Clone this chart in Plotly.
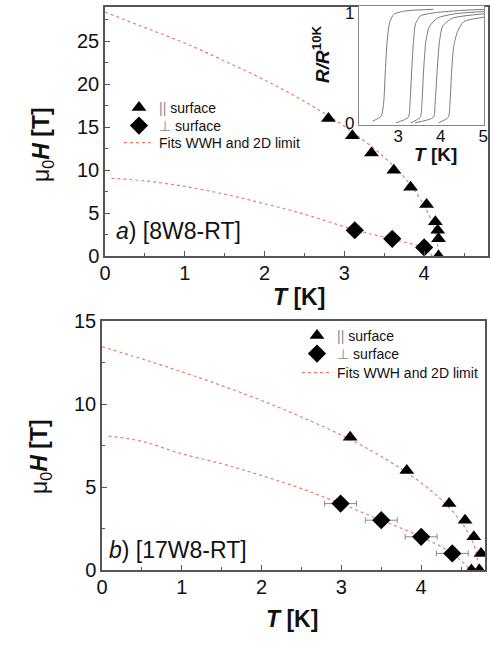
import plotly.graph_objects as go

# ---------------- data ----------------
# panel a) [8W8-RT]
par_T_a = [2.80, 3.10, 3.34, 3.62, 3.83, 4.03, 4.14, 4.17, 4.18, 4.18]
par_H_a = [16, 14, 12, 10, 8, 6, 4, 3, 2, 0]
perp_T_a = [3.13, 3.60, 4.00]
perp_H_a = [3, 2, 1]
perp_err_a = [0.08, 0.08, 0.06]
fitpar_T_a = [0, 0.5, 1.0, 1.5, 2.0, 2.5, 3.0, 3.5, 3.8, 4.0, 4.1, 4.15, 4.18]
fitpar_H_a = [28.4, 26.6, 24.8, 22.7, 20.5, 18.0, 15.1, 11.5, 8.6, 5.9, 3.9, 2.4, 0]
fitperp_T_a = [0.08, 0.5, 1.0, 1.5, 1.82, 2.45, 3.13, 3.6, 4.0, 4.1]
fitperp_H_a = [9.05, 8.75, 8.1, 7.2, 6.5, 5.0, 3.05, 1.95, 0.9, 0]

# panel b) [17W8-RT]
par_T_b = [3.11, 3.82, 4.35, 4.55, 4.66, 4.75, 4.63, 4.73]
par_H_b = [8, 6, 4, 3, 2, 1, 0, 0]
perp_T_b = [2.99, 3.50, 4.00, 4.39]
perp_H_b = [4, 3, 2, 1]
perp_err_b = [0.2, 0.2, 0.2, 0.2]
fitpar_T_b = [0, 0.5, 1.0, 1.5, 2.0, 2.5, 3.0, 3.5, 4.0, 4.3, 4.5, 4.6, 4.68, 4.72]
fitpar_H_b = [13.45, 12.72, 11.94, 11.11, 10.21, 9.22, 8.12, 6.84, 5.25, 4.01, 2.90, 2.14, 1.24, 0]
fitperp_T_b = [0.08, 0.5, 1.0, 1.5, 1.86, 2.49, 2.99, 3.5, 4.0, 4.39, 4.62]
fitperp_H_b = [8.07, 7.75, 7.0, 6.4, 5.9, 4.92, 4.0, 3.0, 2.0, 1.0, 0]

# inset R/R10K vs T
c1_T = [2.40, 2.60, 2.66, 2.70, 2.74, 2.80, 2.90, 3.16, 3.83]
c1_R = [0.015, 0.06, 0.18, 0.48, 0.73, 0.91, 0.985, 1.015, 1.03]
c2_T = [2.95, 3.24, 3.28, 3.32, 3.36, 3.41, 3.52, 3.88, 4.5, 5.05]
c2_R = [0.0, 0.05, 0.18, 0.48, 0.73, 0.90, 0.97, 1.0, 1.02, 1.03]
c3_T = [3.30, 3.52, 3.56, 3.60, 3.65, 3.73, 3.92, 4.35, 5.05]
c3_R = [0.0, 0.05, 0.18, 0.48, 0.73, 0.87, 0.95, 0.99, 1.01]
c4_T = [3.40, 3.83, 3.87, 3.92, 3.97, 4.05, 4.28, 5.05]
c4_R = [0.0, 0.05, 0.18, 0.48, 0.73, 0.88, 0.95, 0.99]
c5_T = [3.95, 4.18, 4.22, 4.26, 4.31, 4.40, 4.55, 5.05]
c5_R = [0.0, 0.05, 0.18, 0.48, 0.70, 0.83, 0.92, 0.96]
inset_curves = [(c1_T, c1_R), (c2_T, c2_R), (c3_T, c3_R), (c4_T, c4_R), (c5_T, c5_R)]

name_par = "<span style='color:#888'>||</span> surface"
name_perp = "<span style='color:#888'>⊥</span> surface"
name_fit = "Fits WWH and 2D limit"

# ---------------- styles ----------------
W, H = 490, 645
FONT = "Liberation Sans, Arial, DejaVu Sans, sans-serif"
FITC = "#e5806c"
AXC = "#555555"

def px(x):
    return x / W

def py(y):
    return 1 - y / H

fig = go.Figure()

def add_panel(xa, ya, legs, fpT, fpH, fqT, fqH, pT, pH, qT, qH, qE):
    lg_par, lg_perp, lg_fit = legs
    fig.add_trace(go.Scatter(x=fpT, y=fpH, mode="lines", xaxis=xa, yaxis=ya,
                             line=dict(color=FITC, width=1.2, dash="dot", shape="spline"),
                             name=name_fit, legend=lg_fit))
    fig.add_trace(go.Scatter(x=fqT, y=fqH, mode="lines", xaxis=xa, yaxis=ya,
                             line=dict(color=FITC, width=1.2, dash="dot", shape="spline"),
                             showlegend=False, legend=lg_fit))
    fig.add_trace(go.Scatter(x=qT, y=qH, mode="markers", xaxis=xa, yaxis=ya,
                             marker=dict(symbol="diamond", size=14, color="black"),
                             error_x=dict(type="data", array=qE, color="#8a8a8a", thickness=1, width=3),
                             name=name_perp, legend=lg_perp))
    fig.add_trace(go.Scatter(x=pT, y=pH, mode="markers", xaxis=xa, yaxis=ya,
                             marker=dict(symbol="triangle-up", size=13, color="black"),
                             name=name_par, legend=lg_par))

add_panel("x", "y", ("legend", "legend3", "legend4"), fitpar_T_a, fitpar_H_a, fitperp_T_a, fitperp_H_a,
          par_T_a, par_H_a, perp_T_a, perp_H_a, perp_err_a)
add_panel("x2", "y2", ("legend2", "legend5", "legend6"), fitpar_T_b, fitpar_H_b, fitperp_T_b, fitperp_H_b,
          par_T_b, par_H_b, perp_T_b, perp_H_b, perp_err_b)

for cT, cR in inset_curves:
    fig.add_trace(go.Scatter(x=cT, y=cR, mode="lines", xaxis="x3", yaxis="y3",
                             line=dict(color="#7a7a7a", width=1, shape="spline", smoothing=0.6),
                             showlegend=False))

main_axis = dict(showgrid=False, zeroline=False, showline=True, linecolor=AXC, linewidth=1.5,
                 mirror=True, ticks="inside", ticklen=5, tickcolor=AXC, tickwidth=1,
                 tickfont=dict(family=FONT, size=20, color="#111"))

def leg(x, y):
    return dict(x=px(x), y=py(y), xanchor="left", yanchor="middle",
                bgcolor="rgba(0,0,0,0)", font=dict(family=FONT, size=14, color="#111"),
                tracegroupgap=0, itemwidth=30)

fig.update_layout(
    width=W, height=H, margin=dict(l=0, r=0, t=0, b=0, autoexpand=False),
    paper_bgcolor="white", plot_bgcolor="white",
    font=dict(family=FONT, color="#111"),
    xaxis=dict(main_axis, domain=[px(105), px(488)], range=[0, 4.8], dtick=1, anchor="y",
               ticklabelstandoff=-2,
               minor=dict(ticks="inside", ticklen=3, dtick=0.5, tickcolor=AXC)),
    yaxis=dict(main_axis, domain=[py(256), py(7)], range=[0, 29], dtick=5, anchor="x",
               minor=dict(ticks="inside", ticklen=3, dtick=2.5, tickcolor=AXC)),
    xaxis2=dict(main_axis, domain=[px(102), px(485)], range=[0, 4.8], dtick=1, anchor="y2",
                ticklabelstandoff=-2,
                minor=dict(ticks="inside", ticklen=3, dtick=0.5, tickcolor=AXC)),
    yaxis2=dict(main_axis, domain=[py(570), py(321)], range=[0, 15], dtick=5, anchor="x2",
                minor=dict(ticks="inside", ticklen=3, dtick=2.5, tickcolor=AXC)),
    xaxis3=dict(domain=[px(359), px(484)], range=[2.08, 5.02], anchor="y3",
                tickvals=[3, 4, 5], showgrid=False, zeroline=False, showline=True,
                linecolor="#888", linewidth=1.2, mirror=True, ticks="", ticklabelstandoff=-5,
                tickfont=dict(family=FONT, size=17, color="#111")),
    yaxis3=dict(domain=[py(125), py(6)], range=[-0.02, 1.06], anchor="x3",
                tickvals=[0, 1], showgrid=False, zeroline=False, showline=True,
                linecolor="#888", linewidth=1.2, mirror=True, ticks="",
                tickfont=dict(family=FONT, size=17, color="#111")),
    legend=leg(119, 108),
    legend3=leg(119, 126),
    legend4=leg(119, 143),
    legend2=leg(297, 336),
    legend5=leg(297, 354),
    legend6=leg(297, 373),
)

ann = [
    dict(text="μ<sub>0</sub><b><i>H</i> [T]</b>", x=px(43), y=py(145), textangle=-90, size=23),
    dict(text="μ<sub>0</sub><b><i>H</i> [T]</b>", x=px(41), y=py(457), textangle=-90, size=23),
    dict(text="<b><i>T</i> [K]</b>", x=px(299), y=py(297), textangle=0, size=23),
    dict(text="<b><i>T</i> [K]</b>", x=px(292), y=py(619), textangle=0, size=23),
    dict(text="<b><i>T</i> [K]</b>", x=px(435), y=py(154), textangle=0, size=19),
    dict(text="<b><i>R/R</i></b><sup><b>10K</b></sup>", x=px(321), y=py(54), textangle=-90, size=19),
]
annotations = []
for a in ann:
    annotations.append(dict(text=a["text"], x=a["x"], y=a["y"], xref="paper", yref="paper",
                            showarrow=False, textangle=a["textangle"], xanchor="center", yanchor="middle",
                            font=dict(family=FONT, size=a["size"], color="#111")))
annotations.append(dict(text="<i>a</i>) [8W8-RT]", x=px(114), y=py(231), xref="paper", yref="paper",
                        showarrow=False, xanchor="left", yanchor="middle",
                        font=dict(family=FONT, size=23, color="#111")))
annotations.append(dict(text="<i>b</i>) [17W8-RT]", x=px(107), y=py(550), xref="paper", yref="paper",
                        showarrow=False, xanchor="left", yanchor="middle",
                        font=dict(family=FONT, size=23, color="#111")))
fig.update_layout(annotations=annotations)

fig.write_html("out.html", config={"displayModeBar": False},
               post_script="document.body.style.margin='0';document.body.style.overflow='hidden';")
